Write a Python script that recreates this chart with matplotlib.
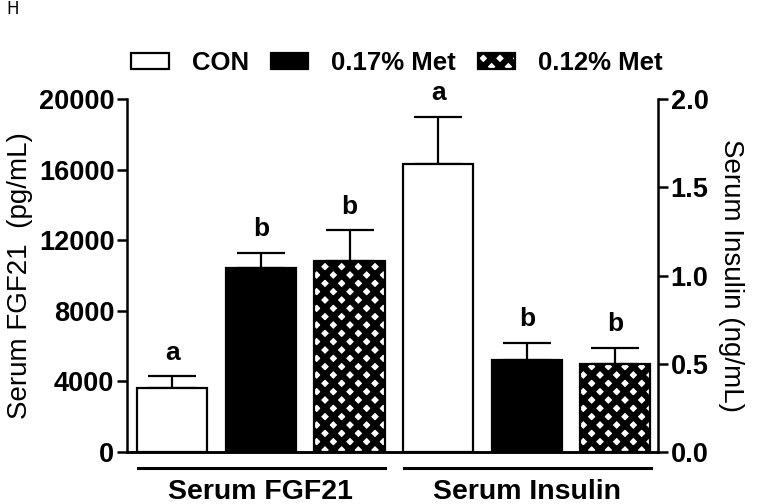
import matplotlib.pyplot as plt
import matplotlib.patches as mpatches
import matplotlib.transforms as mtransforms
import numpy as np

plt.rcParams['font.family'] = ['Liberation Sans', 'DejaVu Sans']
plt.rcParams['hatch.linewidth'] = 4.5
plt.rcParams['hatch.color'] = 'black'

groups = ['CON', '0.17% Met', '0.12% Met']
fgf21_mean = [3600, 10450, 10800]
fgf21_err = [700, 850, 1750]
fgf21_sig = ['a', 'b', 'b']
insulin_mean = [1.63, 0.52, 0.50]
insulin_err = [0.27, 0.10, 0.09]
insulin_sig = ['a', 'b', 'b']

colors = ['white', 'black', 'white']
hatches = [None, None, 'xx']

fig = plt.figure(figsize=(7.62, 5.04), dpi=100)
ax = fig.add_axes([127 / 762, 1 - 452 / 504, (658 - 127) / 762, (452 - 99) / 504])
ax2 = ax.twinx()

x1 = np.arange(3)
x2 = np.arange(3) + 3
w = 0.79
lw = 1.6

for i in range(3):
    ax.bar(x1[i], fgf21_mean[i], w, color=colors[i], edgecolor='black', linewidth=lw,
           hatch=hatches[i], zorder=2)
    ax.errorbar(x1[i], fgf21_mean[i], yerr=[[0], [fgf21_err[i]]], color='black',
                elinewidth=lw, capsize=17, capthick=lw, zorder=1)
    ax.text(x1[i], fgf21_mean[i] + fgf21_err[i] + 650, fgf21_sig[i], ha='center',
            va='bottom', fontsize=19, fontweight='bold')
    ax2.bar(x2[i], insulin_mean[i], w, color=colors[i], edgecolor='black', linewidth=lw,
            hatch=hatches[i], zorder=2)
    ax2.errorbar(x2[i], insulin_mean[i], yerr=[[0], [insulin_err[i]]], color='black',
                 elinewidth=lw, capsize=17, capthick=lw, zorder=1)
    ax2.text(x2[i], insulin_mean[i] + insulin_err[i] + 0.065, insulin_sig[i], ha='center',
             va='bottom', fontsize=19, fontweight='bold')

ax.set_xlim(-0.51, 5.48)
ax.set_ylim(0, 20000)
ax2.set_ylim(0, 2.0)
ax.set_yticks([0, 4000, 8000, 12000, 16000, 20000])
ax2.set_yticks([0, 0.5, 1.0, 1.5, 2.0])
ax2.set_yticklabels(['0.0', '0.5', '1.0', '1.5', '2.0'])
ax.set_xticks([])

for a in (ax, ax2):
    for s in a.spines.values():
        s.set_linewidth(1.8)
    a.spines['top'].set_visible(False)
    a.tick_params(axis='y', direction='out', length=7, width=1.8, labelsize=19.5, pad=2)
    for lab in a.get_yticklabels():
        lab.set_fontweight('bold')
ax.spines['right'].set_visible(False)
ax2.spines['left'].set_visible(False)

ax.set_ylabel('Serum FGF21  (pg/mL)', fontsize=20, labelpad=4)
ax2.set_ylabel('Serum Insulin (ng/mL)', fontsize=20, rotation=270, labelpad=26)

# group underlines and labels
trans = mtransforms.blended_transform_factory(ax.transData, ax.transAxes)
for xs, name in [(x1, 'Serum FGF21'), (x2, 'Serum Insulin')]:
    ax.plot([xs[0] - 0.39, xs[-1] + 0.4], [-0.045, -0.045], color='black', lw=2.2,
            transform=trans, clip_on=False)
    ax.text((xs[0] + xs[-1]) / 2, -0.112, name, transform=trans, ha='center', va='center',
            fontsize=20.5, fontweight='bold')

handles = [mpatches.Patch(facecolor=colors[i], edgecolor='black', linewidth=lw,
                          hatch=hatches[i], label=groups[i]) for i in range(3)]
fig.legend(handles=handles, loc='center', bbox_to_anchor=(397 / 762, 1 - 63 / 504), ncol=3,
           frameon=False, prop={'weight': 'bold', 'size': 18.5}, handlelength=1.45,
           handleheight=0.55, handletextpad=0.9, columnspacing=0.85)

fig.text(6 / 762, 1 - 14 / 504, 'H', fontsize=12, family='DejaVu Sans')

fig.savefig('out.png', dpi=100)
